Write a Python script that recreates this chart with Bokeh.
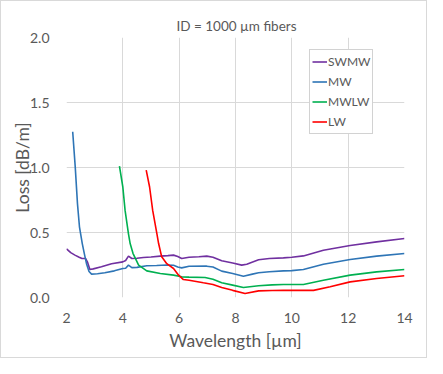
from bokeh.plotting import figure
from bokeh.models import Range1d, Legend, LegendItem, FixedTicker, CustomJSTickFormatter
from bokeh.embed import file_html
from bokeh.resources import INLINE

# ---- data ----
swmw_wl = [2.0, 2.15, 2.3, 2.45, 2.55, 2.68, 2.75, 2.83, 2.95, 3.24, 3.6, 4.0, 4.1, 4.2, 4.32, 4.5,
           4.73, 5.0, 5.33, 5.6, 5.8, 5.95, 6.09, 6.35, 6.7, 6.98, 7.2, 7.51, 7.9, 8.22, 8.4, 8.82,
           9.2, 9.7, 10.0, 10.41, 11.12, 12.07, 13.01, 14.0]
swmw_loss = [0.375, 0.345, 0.326, 0.31, 0.30, 0.30, 0.27, 0.215, 0.22, 0.236, 0.26, 0.274, 0.285,
             0.318, 0.30, 0.302, 0.308, 0.312, 0.318, 0.322, 0.326, 0.315, 0.30, 0.31, 0.314, 0.318,
             0.31, 0.282, 0.265, 0.249, 0.256, 0.29, 0.30, 0.305, 0.31, 0.32, 0.364, 0.40, 0.428, 0.454]

mw_wl = [2.22, 2.31, 2.39, 2.46, 2.56, 2.64, 2.71, 2.8, 2.89, 3.1, 3.36, 3.7, 4.0, 4.1, 4.2, 4.32,
         4.5, 4.85, 5.2, 5.56, 5.8, 5.95, 6.09, 6.35, 6.98, 7.2, 7.51, 7.9, 8.28, 8.6, 8.82, 9.2,
         9.7, 10.0, 10.41, 11.12, 12.07, 13.01, 14.0]
mw_loss = [1.275, 1.005, 0.72, 0.544, 0.415, 0.33, 0.26, 0.20, 0.18, 0.183, 0.19, 0.205, 0.223,
           0.225, 0.249, 0.23, 0.232, 0.244, 0.246, 0.25, 0.248, 0.235, 0.228, 0.24, 0.241, 0.235,
           0.203, 0.185, 0.164, 0.18, 0.19, 0.198, 0.205, 0.207, 0.215, 0.256, 0.292, 0.318, 0.338]

mwlw_wl = [3.88, 4.0, 4.08, 4.2, 4.26, 4.36, 4.56, 4.85, 5.33, 5.8, 6.09, 6.35, 6.92, 7.2, 7.51,
           7.9, 8.28, 8.82, 9.3, 9.7, 10.41, 11.12, 12.07, 13.01, 14.0]
mwlw_loss = [1.01, 0.85, 0.67, 0.49, 0.415, 0.34, 0.249, 0.205, 0.185, 0.172, 0.159, 0.157, 0.154,
             0.14, 0.113, 0.095, 0.077, 0.09, 0.097, 0.10, 0.10, 0.133, 0.172, 0.197, 0.215]

lw_wl = [4.83, 4.95, 5.06, 5.21, 5.27, 5.38, 5.56, 5.8, 5.98, 6.15, 6.35, 6.86, 7.2, 7.51, 7.9,
         8.34, 8.82, 9.3, 9.7, 10.77, 11.36, 12.07, 13.01, 14.0]
lw_loss = [0.98, 0.85, 0.67, 0.49, 0.415, 0.313, 0.26, 0.223, 0.172, 0.138, 0.133, 0.113, 0.10,
           0.077, 0.055, 0.031, 0.051, 0.054, 0.055, 0.055, 0.082, 0.12, 0.146, 0.167]

series_names = ["SWMW", "MW", "MWLW", "LW"]
series_colors = ["#7030A0", "#2E75B6", "#00B050", "#FF0000"]
x_ticks = [2, 4, 6, 8, 10, 12, 14]
y_ticks = [0.0, 0.5, 1.0, 1.5, 2.0]

FONT = "Lato"
GRAY = "#595959"

p = figure(width=427, height=358, output_backend="svg", toolbar_location=None,
           x_range=Range1d(2, 14), y_range=Range1d(0, 2.0),
           min_border_left=65, min_border_right=24, min_border_top=36, min_border_bottom=62,
           title="ID = 1000 \u00b5m fibers")
p.styles = {"border": "1px solid #d9d9d9", "box-sizing": "border-box"}

p.title.align = "left"
p.title.offset = 110
p.title.standoff = 8
p.title.text_font = FONT
p.title.text_font_size = "13.5px"
p.title.text_font_style = "normal"
p.title.text_color = GRAY

p.outline_line_color = None
p.background_fill_color = "white"
p.border_fill_color = "white"

for ax in (p.xaxis[0], p.yaxis[0]):
    ax.axis_line_color = None
    ax.major_tick_line_color = None
    ax.minor_tick_line_color = None
    ax.major_tick_out = 0
    ax.major_tick_in = 0
    ax.major_label_standoff = 15
    ax.major_label_text_font = FONT
    ax.major_label_text_font_size = "14px"
    ax.major_label_text_color = GRAY
    ax.axis_label_text_font = FONT
    ax.axis_label_text_font_size = "17.5px"
    ax.axis_label_text_font_style = "normal"
    ax.axis_label_text_color = GRAY

p.xaxis[0].ticker = FixedTicker(ticks=x_ticks)
p.yaxis[0].ticker = FixedTicker(ticks=y_ticks)
p.yaxis[0].formatter = CustomJSTickFormatter(code="return tick.toFixed(1);")
p.yaxis[0].major_label_standoff = 17
p.xaxis[0].axis_label = "Wavelength [\u00b5m]"
p.yaxis[0].axis_label = "Loss [dB/m]"
p.xaxis[0].axis_label_standoff = 4
p.yaxis[0].axis_label_standoff = -6

p.xgrid.ticker = FixedTicker(ticks=x_ticks)
p.ygrid.ticker = FixedTicker(ticks=y_ticks)
p.grid.grid_line_color = "#d9d9d9"
p.grid.grid_line_width = 1

data = [(swmw_wl, swmw_loss), (mw_wl, mw_loss), (mwlw_wl, mwlw_loss), (lw_wl, lw_loss)]
items = []
for (xs, ys), name, col in zip(data, series_names, series_colors):
    r = p.line(xs, ys, line_color=col, line_width=1.6)
    items.append(LegendItem(label=name, renderers=[r]))

legend = Legend(items=items, location=(243, 163))
legend.border_line_color = "#a6a6a6"
legend.border_line_width = 1
legend.background_fill_color = "white"
legend.background_fill_alpha = 1
legend.label_text_font = FONT
legend.label_text_font_size = "12px"
legend.label_text_color = GRAY
legend.glyph_width = 15
legend.glyph_height = 19
legend.label_height = 19
legend.label_standoff = 1
legend.spacing = 1
legend.padding = 2
legend.margin = 0
p.add_layout(legend, "center")

open("out.html", "w").write(file_html(p, INLINE))
